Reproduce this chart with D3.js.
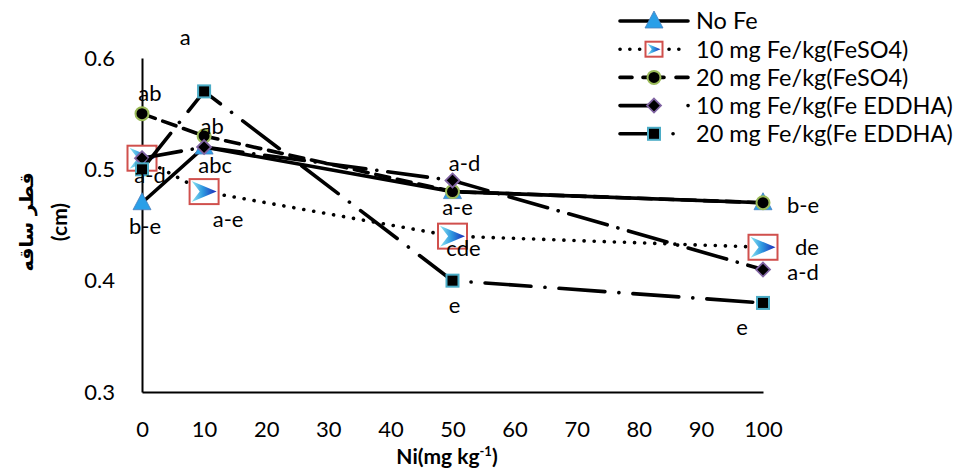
<!DOCTYPE html>
<html><head><meta charset="utf-8">
<script src="https://cdn.jsdelivr.net/npm/d3@7"></script>
<style>body{margin:0;background:#fff}svg{display:block}</style>
</head><body>
<script>
const niLevels = [0, 10, 50, 100];
const seriesNames = ["No Fe","10 mg Fe/kg(FeSO4)","20 mg Fe/kg(FeSO4)","10 mg Fe/kg(Fe EDDHA)","20 mg Fe/kg(Fe EDDHA)"];
const noFe      = [0.47, 0.52, 0.48, 0.47];
const feso4_10  = [0.51, 0.48, 0.44, 0.43];
const feso4_20  = [0.55, 0.53, 0.48, 0.47];
const eddha_10  = [0.51, 0.52, 0.49, 0.41];
const eddha_20  = [0.50, 0.57, 0.40, 0.38];
const xTicks = [0,10,20,30,40,50,60,70,80,90,100];
const yTicks = [0.3,0.4,0.5,0.6];
// letter labels: [series index, point index, text]
const letterLabels = [
  [2,0,"ab"],[1,0,"a-d"],[0,0,"b-e"],
  [4,1,"a"],[2,1,"ab"],[0,1,"abc"],[1,1,"a-e"],
  [3,2,"a-d"],[0,2,"a-e"],[1,2,"cde"],[4,2,"e"],
  [0,3,"b-e"],[1,3,"de"],[3,3,"a-d"],[4,3,"e"]
];

const W=953,H=470;
const svg=d3.select("body").append("svg").attr("width",W).attr("height",H);
const defs=svg.append("defs");
const grad=defs.append("linearGradient").attr("id","arrowGrad").attr("x1","0").attr("x2","1").attr("y1","0").attr("y2","0");
grad.append("stop").attr("offset","0").attr("stop-color","#8fe6f2");
grad.append("stop").attr("offset","0.45").attr("stop-color","#2f9ae0");
grad.append("stop").attr("offset","1").attr("stop-color","#1a2ab8");

const x=d3.scaleLinear().domain([0,100]).range([142,763]);
const y=d3.scaleLinear().domain([0.3,0.6]).range([392,58]);
const font="Lato, 'Open Sans', sans-serif";
const fs=22;

// axes
const gx=svg.append("g").attr("transform","translate(0,392)")
  .call(d3.axisBottom(x).tickValues(xTicks).tickSize(0).tickPadding(29).tickFormat(d3.format("d")));
gx.select(".domain").attr("stroke","#000").attr("stroke-width",2);
gx.selectAll("text").attr("font-family",font).attr("font-size",fs).attr("fill","#000");
const gy=svg.append("g").attr("transform","translate(142,0)")
  .call(d3.axisLeft(y).tickValues(yTicks).tickSize(0).tickPadding(27).tickFormat(d3.format(".1f")));
gy.select(".domain").attr("stroke","#000").attr("stroke-width",2);
gy.selectAll("text").attr("font-family",font).attr("font-size",fs).attr("fill","#000");

// titles
const xt=svg.append("text").attr("x",447).attr("y",464).attr("text-anchor","middle")
  .attr("font-family",font).attr("font-size",21).attr("font-weight","bold");
xt.append("tspan").text("Ni(mg kg");
xt.append("tspan").attr("dy",-8).attr("font-size",13).text("-1");
xt.append("tspan").attr("dy",8).text(")");
const yt=svg.append("g").attr("transform","translate(0,222) rotate(-90)");
yt.append("text").attr("x",0).attr("y",33).attr("text-anchor","middle").attr("direction","rtl")
  .attr("font-family","'DejaVu Sans', sans-serif").attr("font-size",19).attr("font-weight","bold").text("قطر ساقه");
yt.append("text").attr("x",0).attr("y",67).attr("text-anchor","middle")
  .attr("font-family",font).attr("font-size",21).attr("font-weight","bold").text("(cm)");

const allData=[noFe,feso4_10,feso4_20,eddha_10,eddha_20];
const dashes=[null,"0.1 10","14 8","40 11 0.1 11","46 14 0.1 14"];

function drawMarker(g,i,cx,cy,legend){
  if(i===0){
    g.append("path").attr("d",`M${cx},${cy-10}L${cx+9},${cy+7}L${cx-9},${cy+7}Z`)
      .attr("fill","#2a9fe8").attr("stroke","#4a7ebb").attr("stroke-width",0.8);
  } else if(i===1){
    const w=legend?17:29,h=legend?15:25;
    g.append("rect").attr("x",cx-w/2).attr("y",cy-h/2).attr("width",w).attr("height",h)
      .attr("fill","#fff").attr("stroke","#d0504d").attr("stroke-width",2);
    const a=w/2-2,b=h/2-2;
    g.append("path").attr("d",`M${cx-a},${cy-b}L${cx+a},${cy}L${cx-a},${cy+b}L${cx-a*0.35},${cy}Z`)
      .attr("fill","url(#arrowGrad)");
  } else if(i===2){
    g.append("circle").attr("cx",cx).attr("cy",cy).attr("r",6.5)
      .attr("fill","#000").attr("stroke","#9bbb59").attr("stroke-width",2);
  } else if(i===3){
    g.append("path").attr("d",`M${cx},${cy-7}L${cx+7},${cy}L${cx},${cy+7}L${cx-7},${cy}Z`)
      .attr("fill","#000").attr("stroke","#8064a2").attr("stroke-width",1.8);
  } else {
    g.append("rect").attr("x",cx-6).attr("y",cy-6).attr("width",12).attr("height",12)
      .attr("fill","#000").attr("stroke","#4bacc6").attr("stroke-width",2);
  }
}

const line=d3.line().x((d,j)=>x(niLevels[j])).y(d=>y(d));
allData.forEach((vals,i)=>{
  const g=svg.append("g");
  const p=g.append("path").attr("d",line(vals)).attr("fill","none").attr("stroke","#000")
    .attr("stroke-width",3.6).attr("stroke-linecap","round");
  if(dashes[i]) p.attr("stroke-dasharray",dashes[i]);
  vals.forEach((v,j)=>drawMarker(g,i,x(niLevels[j]),y(v),false));
});

// letter labels (offset of label centre from its point)
const labelOffsets = {
  "2,0":[8,-21],"1,0":[8,17],"0,0":[3,23],
  "4,1":[-19,-54],"2,1":[8,-10],"0,1":[11,18],"1,1":[24,27],
  "3,2":[12,-17],"0,2":[5,15],"1,2":[11,12],"4,2":[2,24],
  "0,3":[40,2],"1,3":[44,0],"3,3":[40,3],"4,3":[-21,24]
};
letterLabels.forEach(([si,pi,t])=>{
  const off=labelOffsets[si+","+pi];
  svg.append("text").attr("x",x(niLevels[pi])+off[0]).attr("y",y(allData[si][pi])+off[1])
    .attr("dy","0.36em").attr("text-anchor","middle").attr("font-family",font).attr("font-size",fs).attr("fill","#000").text(t);
});

// legend
const lg=svg.append("g");
seriesNames.forEach((n,i)=>{
  const yy=21+i*28.2;
  const p=lg.append("path").attr("d",`M620,${yy}H688`).attr("fill","none").attr("stroke","#000")
    .attr("stroke-width",3.6).attr("stroke-linecap","round");
  if(i===1) p.attr("stroke-dasharray","0.1 9.7");
  if(i===2) p.attr("d",`M620,${yy}H632M643,${yy}H664M676,${yy}H688`);
  if(i===3) p.attr("d",`M620,${yy}H654M688,${yy}H688.1`);
  if(i===4) p.attr("d",`M620,${yy}H654M673,${yy}H673.1`);
  drawMarker(lg,i,654,yy,true);
  lg.append("text").attr("x",696).attr("y",yy).attr("dy","0.36em").attr("font-family",font).attr("font-size",23.5).text(n);
});
</script>
</body></html>
